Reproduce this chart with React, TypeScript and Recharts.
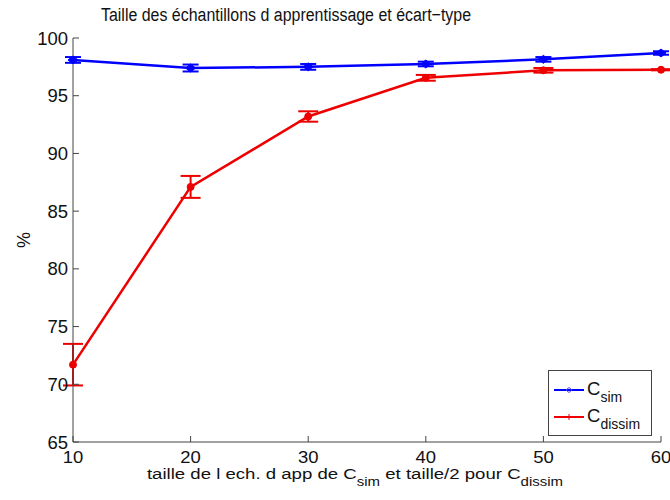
import React from "react";
import { LineChart, Line, XAxis, YAxis, ErrorBar } from "recharts";

const sizes = [10, 20, 30, 40, 50, 60];
const simValues = [98.1, 97.4, 97.5, 97.75, 98.15, 98.7];
const simErrors = [0.25, 0.3, 0.25, 0.2, 0.2, 0.15];
const dissimValues = [71.7, 87.1, 93.2, 96.55, 97.2, 97.25];
const dissimErrors = [1.8, 0.95, 0.45, 0.25, 0.2, 0.05];
const xTicks = [10, 20, 30, 40, 50, 60];
const yTicks = [65, 70, 75, 80, 85, 90, 95, 100];

const data = sizes.map((s, i) => ({
  size: s,
  sim: simValues[i],
  simErr: simErrors[i],
  dissim: dissimValues[i],
  dissimErr: dissimErrors[i],
}));

const FONT = "'Liberation Sans', Arial, Helvetica, sans-serif";
const AXIS = "#444";
const BLUE = "#0000ff";
const RED = "#ee0000";

const YTick = (props: any) => {
  const { x, y, payload } = props;
  return (
    <g>
      <line x1={x + 5} x2={x + 11} y1={y} y2={y} stroke={AXIS} strokeWidth={1} />
      <text x={x} y={y} dy={6.5} textAnchor="end" fontSize={18.5} fontFamily={FONT} fill="#111">
        {payload.value}
      </text>
    </g>
  );
};

const XTick = (props: any) => {
  const { x, y, payload } = props;
  return (
    <g>
      <line x1={x} x2={x} y1={y} y2={y - 6} stroke={AXIS} strokeWidth={1} />
      <text
        transform={`translate(${x},${y + 21}) scale(1.12,1)`}
        x={0}
        y={0}
        textAnchor="middle"
        fontSize={16.5}
        fontFamily={FONT}
        fill="#111"
      >
        {payload.value}
      </text>
    </g>
  );
};

const Diamond = (props: any) => {
  const { cx, cy } = props;
  if (cx == null || cy == null) return null;
  return <path d={`M${cx - 5},${cy} L${cx},${cy - 4} L${cx + 5},${cy} L${cx},${cy + 4} Z`} fill={BLUE} stroke={BLUE} />;
};

const Dot = (props: any) => {
  const { cx, cy } = props;
  if (cx == null || cy == null) return null;
  return <circle cx={cx} cy={cy} r={3.5} fill={RED} stroke={RED} />;
};

const LegendBox = () => (
  <svg width={104} height={66} style={{ display: "block" }}>
    <rect x={0.5} y={0.5} width={103} height={65} fill="#fff" stroke={AXIS} />
    <line x1={6} x2={36} y1={20} y2={20} stroke={BLUE} strokeWidth={2} />
    <path d="M18,20 L21,17.5 L24,20 L21,22.5 Z" fill="none" stroke="#4444ff" strokeWidth={1} />
    <text x={39} y={25} fontSize={18.5} fontFamily={FONT} fill="#111">
      C<tspan fontSize={14} dy={7}>sim</tspan>
    </text>
    <line x1={6} x2={36} y1={47} y2={47} stroke={RED} strokeWidth={2} />
    <line x1={21} x2={21} y1={44} y2={50} stroke={RED} strokeWidth={1} />
    <text x={39} y={52} fontSize={18.5} fontFamily={FONT} fill="#111">
      C<tspan fontSize={14} dy={7}>dissim</tspan>
    </text>
  </svg>
);

export default function App() {
  return (
    <div style={{ position: "absolute", left: 0, top: 0, width: 670, height: 500, background: "#fff" }}>
      <LineChart width={670} height={500} data={data} margin={{ top: 38, right: 9, bottom: 0, left: 0 }}>
        <text
          transform="translate(286,21) scale(0.84,1)"
          x={0}
          y={0}
          textAnchor="middle"
          fontSize={19}
          fontFamily={FONT}
          fill="#111"
        >
          Taille des échantillons d apprentissage et écart−type
        </text>
        <text
          x={30}
          y={240}
          textAnchor="middle"
          fontSize={18}
          fontFamily={FONT}
          fill="#111"
          transform="rotate(-90 30 240)"
        >
          %
        </text>
        <text
          transform="translate(355,479) scale(1.2,1)"
          x={0}
          y={0}
          textAnchor="middle"
          fontSize={15.5}
          fontFamily={FONT}
          fill="#111"
        >
          taille de l ech. d app de C<tspan fontSize={12.5} dy={7}>sim</tspan>
          <tspan dy={-7}> et taille/2 pour C</tspan>
          <tspan fontSize={12.5} dy={7}>dissim</tspan>
        </text>
        <XAxis
          dataKey="size"
          type="number"
          domain={[10, 60]}
          ticks={xTicks}
          height={58}
          tickSize={0}
          tickMargin={0}
          tickLine={false}
          axisLine={{ stroke: AXIS }}
          tick={<XTick />}
          interval={0}
        />
        <YAxis
          type="number"
          domain={[65, 100]}
          ticks={yTicks}
          width={73}
          tickSize={0}
          tickMargin={5}
          tickLine={false}
          axisLine={{ stroke: AXIS }}
          tick={<YTick />}
          interval={0}
          allowDataOverflow
        />
        <Line
          dataKey="sim"
          stroke={BLUE}
          strokeWidth={2.5}
          dot={<Diamond />}
          activeDot={false}
          isAnimationActive={false}
        >
          <ErrorBar dataKey="simErr" width={8} strokeWidth={2} stroke={BLUE} direction="y" />
        </Line>
        <Line
          dataKey="dissim"
          stroke={RED}
          strokeWidth={2.5}
          dot={<Dot />}
          activeDot={false}
          isAnimationActive={false}
        >
          <ErrorBar dataKey="dissimErr" width={10} strokeWidth={2} stroke={RED} direction="y" />
        </Line>
      </LineChart>
      <div style={{ position: "absolute", left: 548, top: 370 }}>
        <LegendBox />
      </div>
    </div>
  );
}
